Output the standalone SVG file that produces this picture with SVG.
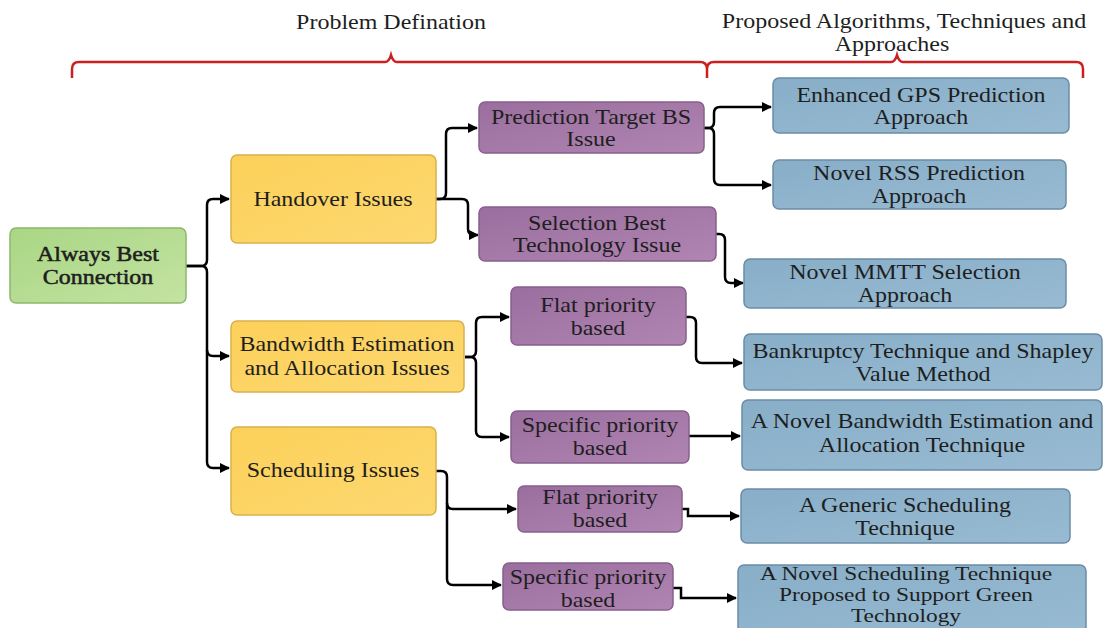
<svg xmlns="http://www.w3.org/2000/svg" width="1106" height="628" viewBox="0 0 1106 628">
  <style>
    .t { font-family: "Liberation Serif", "Times New Roman", serif; font-size: 20px; fill: #1e1e1e; text-anchor: middle; }
    .s { font-size: 18px; }
    .b { stroke: #1e1e1e; stroke-width: 0.5; }
    .green { fill: url(#gGreen); stroke: #8cb86a; stroke-width: 1.5; }
    .yellow { fill: url(#gYellow); stroke: #d9b04c; stroke-width: 1.5; }
    .purple { fill: url(#gPurple); stroke: #87608c; stroke-width: 1.5; }
    .blue { fill: url(#gBlue); stroke: #6b8ca6; stroke-width: 1.5; }
    .wire { fill: none; stroke: #000; stroke-width: 2.5; marker-end: url(#arrow); }
    .brace { fill: none; stroke: #cc1f1f; stroke-width: 2.5; }
  </style>
  <defs>
    <marker id="arrow" viewBox="0 0 10 10" refX="9" refY="5" markerWidth="4" markerHeight="4" markerUnits="strokeWidth" orient="auto">
      <path d="M0,0 L10,5 L0,10 z" fill="#000"/>
    </marker>
    <linearGradient id="gGreen" x1="0" y1="0" x2="1" y2="1">
      <stop offset="0" stop-color="#a9d684"/>
      <stop offset="1" stop-color="#c3e3a2"/>
    </linearGradient>
    <linearGradient id="gYellow" x1="0" y1="0" x2="1" y2="1">
      <stop offset="0" stop-color="#fcd15a"/>
      <stop offset="1" stop-color="#fdd870"/>
    </linearGradient>
    <linearGradient id="gPurple" x1="0" y1="0" x2="1" y2="1">
      <stop offset="0" stop-color="#9a6e9e"/>
      <stop offset="1" stop-color="#b085b2"/>
    </linearGradient>
    <linearGradient id="gBlue" x1="0" y1="0" x2="1" y2="1">
      <stop offset="0" stop-color="#88aec8"/>
      <stop offset="1" stop-color="#98bbd2"/>
    </linearGradient>
  </defs>

  <rect width="1106" height="628" fill="#fff"/>

  <!-- section headings and braces -->
  <g id="headings">
    <text class="t" transform="translate(391 29) scale(1.2 1)">Problem Defination</text>
    <text class="t" transform="translate(904 28) scale(1.2 1)">Proposed Algorithms, Techniques and</text>
    <text class="t" transform="translate(892 51) scale(1.2 1)">Approaches</text>
    <path class="brace" d="M72,78 V69 Q72,62 79,62 H385 Q389,62 391,55 Q393,62 397,62 H700 Q707,62 707,69 V78 M707,69 Q707,62 714,62 H891 Q895,62 897,55 Q899,62 903,62 H1076 Q1083,62 1083,69 V78"/>
  </g>

  <!-- connectors -->
  <g id="connectors">
    <path class="wire" d="M186,266 H201 Q207,266 207,260 V205 Q207,199 213,199 H229"/>
    <path class="wire" d="M186,266 H201 Q207,266 207,272 V350 Q207,356 213,356 H229"/>
    <path class="wire" d="M207,350 V462 Q207,468 213,468 H229"/>
    <path class="wire" d="M436,199 H440 Q446,199 446,193 V134 Q446,128 452,128 H477"/>
    <path class="wire" d="M436,199 H462 Q468,199 468,205 V229 Q468,235 474,235 H478"/>
    <path class="wire" d="M704,128 H708 Q714,128 714,122 V113 Q714,107 720,107 H771"/>
    <path class="wire" d="M704,128 H708 Q714,128 714,134 V179 Q714,185 720,185 H771"/>
    <path class="wire" d="M716,234 H719 Q725,234 725,240 V277 Q725,283 731,283 H743"/>
    <path class="wire" d="M465,357 H470 Q476,357 476,351 V323 Q476,317 482,317 H509"/>
    <path class="wire" d="M465,357 H470 Q476,357 476,363 V431 Q476,437 482,437 H509"/>
    <path class="wire" d="M686,317 H690 Q696,317 696,323 V357 Q696,363 702,363 H742"/>
    <path class="wire" d="M689,436 H740"/>
    <path class="wire" d="M436,471 H441 Q447,471 447,477 V503 Q447,509 453,509 H516"/>
    <path class="wire" d="M447,503 V579 Q447,585 453,585 H501"/>
    <path class="wire" d="M682,509 H688 V516 H739"/>
    <path class="wire" d="M673,588 H681 V598 H736"/>
  </g>

  <!-- root -->
  <g id="always-best">
    <rect class="green" x="10" y="228" width="176" height="75" rx="6"/>
    <text class="t b" transform="translate(98 261) scale(1.2 1)">Always Best</text>
    <text class="t b" transform="translate(98 284) scale(1.2 1)">Connection</text>
  </g>

  <!-- issue categories -->
  <g id="handover">
    <rect class="yellow" x="231" y="155" width="205" height="88" rx="6"/>
    <text class="t" transform="translate(333 206) scale(1.2 1)">Handover Issues</text>
  </g>
  <g id="bandwidth">
    <rect class="yellow" x="231" y="321" width="233" height="71" rx="6"/>
    <text class="t" transform="translate(347 351) scale(1.2 1)">Bandwidth Estimation</text>
    <text class="t" transform="translate(347 375) scale(1.2 1)">and Allocation Issues</text>
  </g>
  <g id="scheduling">
    <rect class="yellow" x="231" y="427" width="205" height="88" rx="6"/>
    <text class="t" transform="translate(333 477) scale(1.2 1)">Scheduling Issues</text>
  </g>

  <!-- sub-issues -->
  <g id="prediction-target">
    <rect class="purple" x="479" y="102" width="225" height="51" rx="6"/>
    <text class="t" transform="translate(591 124) scale(1.2 1)">Prediction Target BS</text>
    <text class="t" transform="translate(591 146) scale(1.2 1)">Issue</text>
  </g>
  <g id="selection-best">
    <rect class="purple" x="479" y="207" width="237" height="54" rx="6"/>
    <text class="t" transform="translate(597 230) scale(1.2 1)">Selection Best</text>
    <text class="t" transform="translate(597 252) scale(1.2 1)">Technology Issue</text>
  </g>
  <g id="bw-flat">
    <rect class="purple" x="511" y="287" width="175" height="58" rx="6"/>
    <text class="t" transform="translate(598 312) scale(1.2 1)">Flat priority</text>
    <text class="t" transform="translate(598 335) scale(1.2 1)">based</text>
  </g>
  <g id="bw-specific">
    <rect class="purple" x="511" y="411" width="178" height="52" rx="6"/>
    <text class="t" transform="translate(600 432) scale(1.2 1)">Specific priority</text>
    <text class="t" transform="translate(600 455) scale(1.2 1)">based</text>
  </g>
  <g id="sched-flat">
    <rect class="purple" x="518" y="486" width="164" height="46" rx="6"/>
    <text class="t" transform="translate(600 504) scale(1.2 1)">Flat priority</text>
    <text class="t" transform="translate(600 527) scale(1.2 1)">based</text>
  </g>
  <g id="sched-specific">
    <rect class="purple" x="503" y="563" width="170" height="47" rx="6"/>
    <text class="t" transform="translate(588 584) scale(1.2 1)">Specific priority</text>
    <text class="t" transform="translate(588 607) scale(1.2 1)">based</text>
  </g>

  <!-- proposed solutions -->
  <g id="gps-approach">
    <rect class="blue" x="773" y="78" width="296" height="55" rx="6"/>
    <text class="t" transform="translate(921 102) scale(1.2 1)">Enhanced GPS Prediction</text>
    <text class="t" transform="translate(921 124) scale(1.2 1)">Approach</text>
  </g>
  <g id="rss-approach">
    <rect class="blue" x="773" y="160" width="293" height="49" rx="6"/>
    <text class="t" transform="translate(919 180) scale(1.2 1)">Novel RSS Prediction</text>
    <text class="t" transform="translate(919 203) scale(1.2 1)">Approach</text>
  </g>
  <g id="mmtt-approach">
    <rect class="blue" x="744" y="259" width="322" height="49" rx="6"/>
    <text class="t" transform="translate(905 279) scale(1.2 1)">Novel MMTT Selection</text>
    <text class="t" transform="translate(905 302) scale(1.2 1)">Approach</text>
  </g>
  <g id="bankruptcy">
    <rect class="blue" x="744" y="334" width="358" height="56" rx="6"/>
    <text class="t" transform="translate(923 358) scale(1.2 1)">Bankruptcy Technique and Shapley</text>
    <text class="t" transform="translate(923 381) scale(1.2 1)">Value Method</text>
  </g>
  <g id="novel-bandwidth">
    <rect class="blue" x="742" y="400" width="360" height="70" rx="6"/>
    <text class="t" transform="translate(922 428) scale(1.2 1)">A Novel Bandwidth Estimation and</text>
    <text class="t" transform="translate(922 452) scale(1.2 1)">Allocation Technique</text>
  </g>
  <g id="generic-scheduling">
    <rect class="blue" x="741" y="489" width="329" height="54" rx="6"/>
    <text class="t" transform="translate(905 512) scale(1.2 1)">A Generic Scheduling</text>
    <text class="t" transform="translate(905 535) scale(1.2 1)">Technique</text>
  </g>
  <g id="green-scheduling">
    <rect class="blue" x="738" y="565" width="348" height="75" rx="6"/>
    <text class="t s" transform="translate(906 580) scale(1.3 1)">A Novel Scheduling Technique</text>
    <text class="t s" transform="translate(906 601) scale(1.3 1)">Proposed to Support Green</text>
    <text class="t s" transform="translate(906 622) scale(1.3 1)">Technology</text>
  </g>
</svg>
